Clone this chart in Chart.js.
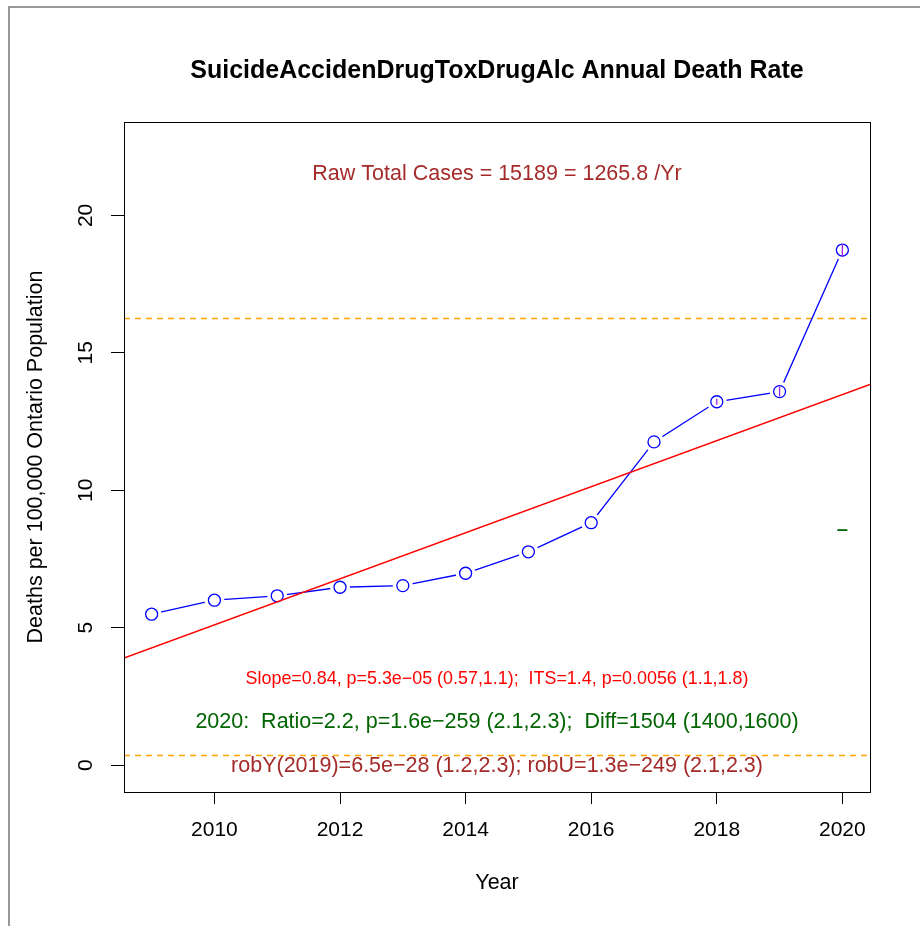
<!DOCTYPE html>
<html>
<head>
<meta charset="utf-8">
<script src="https://cdn.jsdelivr.net/npm/chart.js@4/dist/chart.umd.min.js"></script>
<style>
  body { margin: 0; background: #fff; }
  #wrap { width: 920px; height: 926px; position: relative; }
</style>
</head>
<body>
<div id="wrap"><canvas id="c" width="920" height="926"></canvas></div>
<script>
// annual rates per 100,000
var years = [2009, 2010, 2011, 2012, 2013, 2014, 2015, 2016, 2017, 2018, 2019, 2020];
var rates = [5.49, 6.0, 6.16, 6.47, 6.53, 6.98, 7.76, 8.82, 11.76, 13.22, 13.59, 18.74];
// small error bars (half width) seen on the last points
var errYears = [2018, 2019, 2020];
var errHalf = [0.11, 0.18, 0.22];
// fitted trend line, at the plot edges
var fitYears = [2008.56, 2020.44];
var fitRates = [3.89, 13.85];
// dashed reference levels
var refLevels = [16.25, 0.36];
// expected 2020 value (green mark)
var expYear = [2020];
var expRate = [8.55];

var xTicks = [2010, 2012, 2014, 2016, 2018, 2020];
var yTicks = [0, 5, 10, 15, 20];
var xMin = 2008.56, xMax = 2020.44;
var yMin = -0.98, yMax = 23.4;

var chartTitle = "SuicideAccidenDrugToxDrugAlc Annual Death Rate";
var xTitle = "Year";
var yTitle = "Deaths per 100,000 Ontario Population";
// text lines drawn in the plot, [text, y value, colour, font size]
var notes = [
  ["Raw Total Cases = 15189 = 1265.8 /Yr", 21.5, "#A52A2A", 21.5],
  ["Slope=0.84, p=5.3e\u221205 (0.57,1.1);  ITS=1.4, p=0.0056 (1.1,1.8)", 3.12, "#FF0000", 17.9],
  ["2020:  Ratio=2.2, p=1.6e\u2212259 (2.1,2.3);  Diff=1504 (1400,1600)", 1.57, "#006400", 21.5],
  ["robY(2019)=6.5e\u221228 (1.2,2.3); robU=1.3e\u2212249 (2.1,2.3)", -0.05, "#A52A2A", 21.5]
];

var FONT = "'Liberation Sans', Arial, Helvetica, sans-serif";

function xy(xs, ys) {
  var out = [];
  for (var i = 0; i < xs.length; i++) out.push({x: xs[i], y: ys[i]});
  return out;
}

var extras = {
  id: 'extras',
  beforeDatasetsDraw: function(chart) {
    var ctx = chart.ctx, a = chart.chartArea;
    var ys = chart.scales.y;
    // dashed orange lines
    ctx.save();
    ctx.strokeStyle = "#FFA500";
    ctx.lineWidth = 1.5;
    ctx.setLineDash([6, 5]);
    refLevels.forEach(function(v) {
      var py = Math.round(ys.getPixelForValue(v)) + 0.5;
      ctx.beginPath();
      ctx.moveTo(a.left, py);
      ctx.lineTo(a.right, py);
      ctx.stroke();
    });
    ctx.restore();
  },
  afterDraw: function(chart) {
    var ctx = chart.ctx, a = chart.chartArea;
    var xs = chart.scales.x, ys = chart.scales.y;
    ctx.save();
    // error bars
    ctx.strokeStyle = "#A020F0";
    ctx.lineWidth = 1.3;
    for (var i = 0; i < errYears.length; i++) {
      var j = years.indexOf(errYears[i]);
      var px = xs.getPixelForValue(errYears[i]);
      ctx.beginPath();
      ctx.moveTo(px, ys.getPixelForValue(rates[j] - errHalf[i]));
      ctx.lineTo(px, ys.getPixelForValue(rates[j] + errHalf[i]));
      ctx.stroke();
    }
    // box
    ctx.strokeStyle = "#000";
    ctx.lineWidth = 1;
    ctx.strokeRect(Math.round(a.left) + 0.5, Math.round(a.top) + 0.5,
      Math.round(a.right - a.left), Math.round(a.bottom - a.top));
    // outer grey frame
    ctx.strokeStyle = "#777";
    ctx.lineWidth = 1.5;
    ctx.beginPath();
    ctx.moveTo(9, 926);
    ctx.lineTo(9, 7);
    ctx.lineTo(920, 7);
    ctx.stroke();
    // y tick labels, rotated like R
    ctx.fillStyle = "#000";
    ctx.font = "21px " + FONT;
    ctx.textAlign = "center";
    ctx.textBaseline = "middle";
    yTicks.forEach(function(v) {
      ctx.save();
      ctx.translate(86, ys.getPixelForValue(v));
      ctx.rotate(-Math.PI / 2);
      ctx.fillText(String(v), 0, 0);
      ctx.restore();
    });
    // titles
    var cx = (a.left + a.right) / 2;
    ctx.font = "bold 25px " + FONT;
    ctx.fillText(chartTitle, cx, 71);
    ctx.font = "21.5px " + FONT;
    ctx.fillText(xTitle, cx, 883);
    ctx.save();
    ctx.translate(36, (a.top + a.bottom) / 2);
    ctx.rotate(-Math.PI / 2);
    ctx.fillText(yTitle, 0, 0);
    ctx.restore();
    // notes inside the plot
    notes.forEach(function(n) {
      ctx.fillStyle = n[2];
      ctx.font = n[3] + "px " + FONT;
      ctx.fillText(n[0], cx, ys.getPixelForValue(n[1]));
    });
    ctx.restore();
  }
};

new Chart(document.getElementById('c').getContext('2d'), {
  type: 'line',
  data: {
    datasets: [
      { // trend line, on top
        data: xy(fitYears, fitRates),
        borderColor: "#FF0000", borderWidth: 1.5,
        pointRadius: 0, order: 0
      },
      { // circles
        data: xy(years, rates),
        showLine: false,
        pointRadius: 6, pointBorderWidth: 1.3,
        pointBorderColor: "#0000FF", pointBackgroundColor: "#FFFFFF",
        order: 1
      },
      { // white halo to make gaps like type="b"
        data: xy(years, rates),
        showLine: false,
        pointRadius: 10, pointBorderWidth: 0,
        pointBorderColor: "#FFFFFF", pointBackgroundColor: "#FFFFFF",
        order: 2
      },
      { // connecting line
        data: xy(years, rates),
        borderColor: "#0000FF", borderWidth: 1.3,
        pointRadius: 0, order: 3
      },
      { // expected 2020
        data: xy(expYear, expRate),
        showLine: false,
        pointStyle: 'line', pointRadius: 5, pointBorderWidth: 1.8,
        pointBorderColor: "#006400", order: 1
      }
    ]
  },
  options: {
    responsive: false,
    animation: false,
    events: [],
    layout: { padding: { left: 0, right: 50, top: 122, bottom: 0 } },
    plugins: { legend: { display: false }, tooltip: { enabled: false }, title: { display: false } },
    scales: {
      x: {
        type: 'linear', min: xMin, max: xMax,
        afterFit: function(s) { s.height = 134; },
        afterBuildTicks: function(s) { s.ticks = xTicks.map(function(v) { return {value: v}; }); },
        grid: { drawOnChartArea: false, drawTicks: true, tickLength: 12, color: "#000", lineWidth: 1 },
        border: { display: true, color: "#000", width: 1 },
        ticks: {
          color: "#000", padding: 14, maxRotation: 0,
          font: { family: FONT, size: 21 },
          callback: function(v) { return String(v); }
        }
      },
      y: {
        type: 'linear', min: yMin, max: yMax,
        afterFit: function(s) { s.width = 124; },
        afterBuildTicks: function(s) { s.ticks = yTicks.map(function(v) { return {value: v}; }); },
        grid: { drawOnChartArea: false, drawTicks: true, tickLength: 13, color: "#000", lineWidth: 1 },
        border: { display: true, color: "#000", width: 1 },
        ticks: { display: false }
      }
    }
  },
  plugins: [extras]
});
</script>
</body>
</html>
